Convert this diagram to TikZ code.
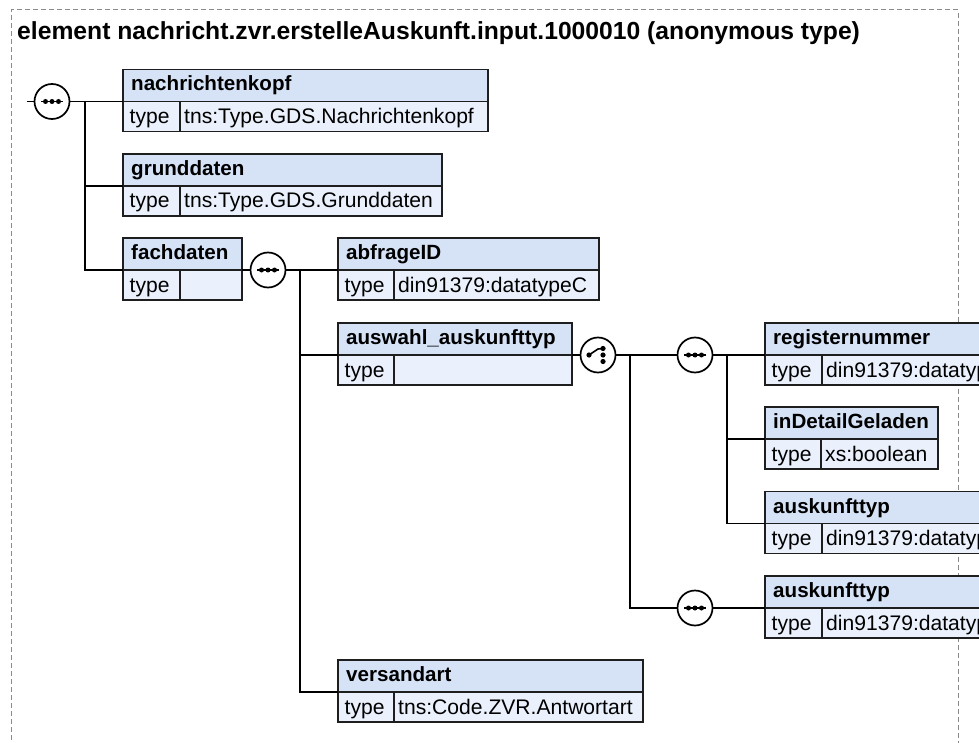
\documentclass[tikz,border=0pt]{standalone}
\usepackage{fontspec}
\setmainfont{Liberation Sans}
\usetikzlibrary{calc}
\definecolor{hdrfill}{HTML}{D6E3F7}
\definecolor{rowfill}{HTML}{EAF1FC}
\definecolor{edgecol}{HTML}{1E1E1E}
\definecolor{framecol}{HTML}{8A8A8A}
\tikzset{
 hdr/.style={draw=edgecol, fill=hdrfill, line width=1.9pt, minimum height=32pt, inner sep=0pt, outer sep=0pt, anchor=north west},
 rowbox/.style={draw=edgecol, fill=rowfill, line width=1.9pt, minimum height=30pt, inner sep=0pt, outer sep=0pt, anchor=north west},
 hdrtxt/.style={anchor=base west, inner sep=0pt, font=\fontsize{20.6}{24}\selectfont\bfseries},
 rowtxt/.style={anchor=base west, inner sep=0pt, font=\fontsize{21.1}{24}\selectfont},
 conn/.style={line width=1.8pt, draw=black},
 compositor/.style={circle, draw=black, fill=white, line width=1.7pt, minimum size=35pt, inner sep=0pt, outer sep=0pt},
 framestyle/.style={draw=framecol, dash pattern=on 5pt off 3pt, line width=1pt},
}
\newcommand\xsdelem[7]{%
 \node[hdr, minimum width=#4pt] (#1) at (#2,#3) {};
 \node[hdrtxt] (#1-name) at ([xshift=8pt,yshift=-21.5pt]#1.north west) {#6};
 \node[rowbox, minimum width=#5pt] (#1-key) at (#1.south west) {};
 \node[rowbox, minimum width=#4pt-#5pt] (#1-val) at (#1-key.north east) {};
 \node[rowtxt] (#1-type) at ([xshift=6.5pt,yshift=-22pt]#1-key.north west) {type};
 \node[rowtxt] (#1-tv) at ([xshift=4pt,yshift=-22pt]#1-val.north west) {#7};
}
\newcommand\seqmark[1]{%
 \draw[line width=1.6pt] ([xshift=-11pt]#1.center) -- ([xshift=11pt]#1.center);
 \fill ([xshift=-6.5pt]#1.center) circle (2.5pt);
 \fill (#1.center) circle (2.5pt);
 \fill ([xshift=6.5pt]#1.center) circle (2.5pt);
}
\newcommand\choicemark[1]{%
 \draw[line width=1.6pt] ([xshift=-9pt]#1.center) -- ([xshift=0pt,yshift=6pt]#1.center) -- ([xshift=5pt,yshift=6.5pt]#1.center);
 \fill ([xshift=-9pt]#1.center) circle (2.6pt);
 \fill ([xshift=5pt,yshift=6.5pt]#1.center) circle (2.6pt);
 \fill ([xshift=5pt]#1.center) circle (2.6pt);
 \fill ([xshift=5pt,yshift=-6.5pt]#1.center) circle (2.6pt);
}
\begin{document}
\begin{tikzpicture}[x=1pt,y=-1pt]
\useasboundingbox (0,0) rectangle (979,743);
\clip (0,0) rectangle (979,743);
\fill[white] (0,0) rectangle (979,743);
\draw[framestyle] (11,780) -- (11,10) -- (958,10) -- (958,780);
\node[anchor=base west, inner sep=0pt, font=\fontsize{24.7}{28}\selectfont\bfseries] (title) at (17,39.5) {element nachricht.zvr.erstelleAuskunft.input.1000010 (anonymous type)};

% compositors
\node[compositor] (s1) at (52,101.5) {};
\node[compositor] (s2) at (268,270) {};
\node[compositor] (c1) at (598,355) {};
\node[compositor] (s3) at (695,355) {};
\node[compositor] (s4) at (695,608) {};
\seqmark{s1}
\seqmark{s2}
\choicemark{c1}
\seqmark{s3}
\seqmark{s4}

% elements
\xsdelem{nk}{123}{69.5}{365}{57}{nachrichtenkopf}{tns:Type.GDS.Nachrichtenkopf}
\xsdelem{gd}{123}{154}{319}{57}{grunddaten}{tns:Type.GDS.Grunddaten}
\xsdelem{fd}{123}{238}{119}{57}{fachdaten}{}
\xsdelem{ab}{338}{238}{261}{56}{abfrageID}{din91379:datatypeC}
\xsdelem{aw}{338}{323}{234}{56}{auswahl\_auskunfttyp}{}
\xsdelem{rn}{765}{323}{265}{57}{registernummer}{din91379:datatypeC}
\xsdelem{idg}{765}{407}{173}{56}{inDetailGeladen}{xs:boolean}
\xsdelem{ak1}{765}{491.5}{265}{57}{auskunfttyp}{din91379:datatypeC}
\xsdelem{ak2}{765}{576}{265}{57}{auskunfttyp}{din91379:datatypeC}
\xsdelem{va}{338}{660}{305}{56}{versandart}{tns:Code.ZVR.Antwortart}

% connectors
\coordinate (start) at (27,101.5);
\coordinate (j1) at (85,101.5);
\coordinate (j2) at (300,270);
\coordinate (j3) at (630,355);
\coordinate (j4) at (727,355);
\draw[conn] (start) -- (s1.west);
\draw[conn] (s1.east) -- (j1) |- (fd.south west);
\draw[conn] (j1) -- (nk.south west);
\draw[conn] (j1 |- gd.south west) -- (gd.south west);
\draw[conn] (fd.south east) -- (s2.west);
\draw[conn] (s2.east) -- (ab.south west);
\draw[conn] (j2) |- (va.south west);
\draw[conn] (j2 |- aw.south west) -- (aw.south west);
\draw[conn] (aw.south east) -- (c1.west);
\draw[conn] (c1.east) -- (s3.west);
\draw[conn] (j3) |- (s4.west);
\draw[conn] (s4.east) -- (ak2.south west);
\draw[conn] (s3.east) -- (rn.south west);
\draw[conn] (j4) |- (ak1.south west);
\draw[conn] (j4 |- idg.south west) -- (idg.south west);
\end{tikzpicture}
\end{document}
